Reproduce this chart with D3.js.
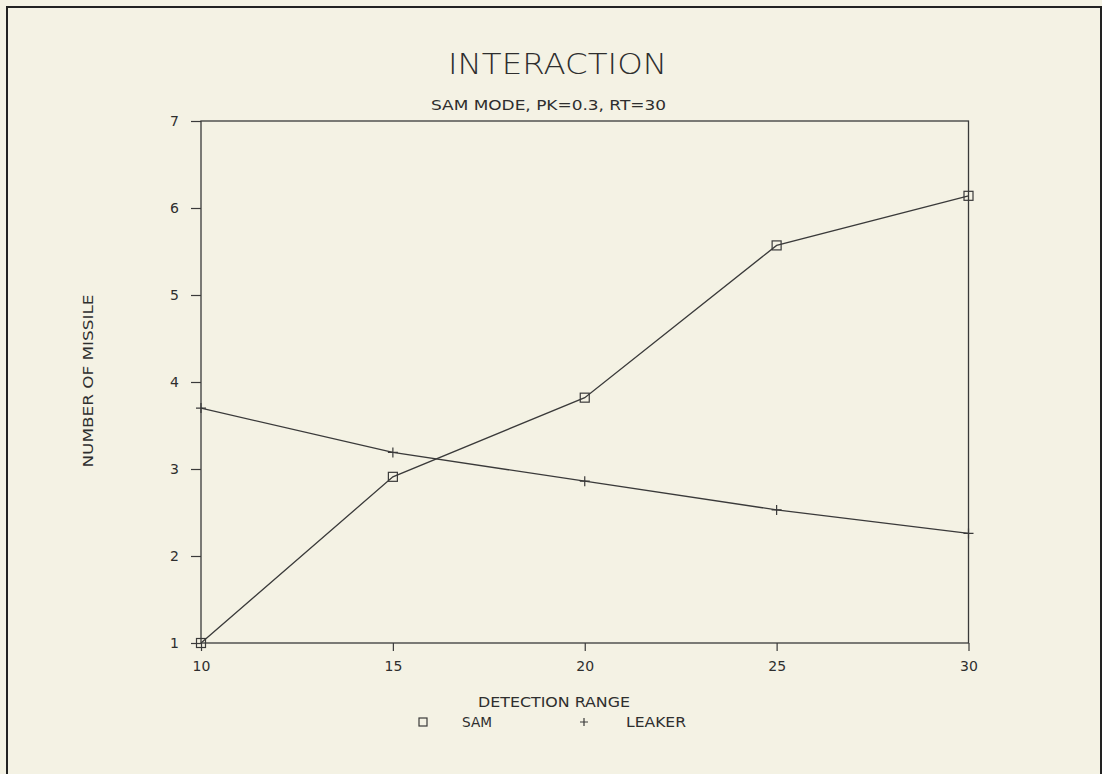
<!DOCTYPE html>
<html>
<head>
<meta charset="utf-8">
<script src="https://cdn.jsdelivr.net/npm/d3@7"></script>
<style>
  html, body { margin: 0; padding: 0; background: #f4f2e4; }
  svg { display: block; }
  text { font-family: "DejaVu Sans", "Liberation Sans", sans-serif; fill: #2e2e2e; }
</style>
</head>
<body>
<script>
const ranges = [10, 15, 20, 25, 30];
const samValues = [1.0, 2.91, 3.82, 5.57, 6.14];
const leakerValues = [3.70, 3.19, 2.86, 2.53, 2.26];
const xTicks = [10, 15, 20, 25, 30];
const yTicks = [1, 2, 3, 4, 5, 6, 7];
const seriesNames = ["SAM", "LEAKER"];

const W = 1102, H = 774;
const mLeft = 201, mRight = 968.5, mTop = 121, mBottom = 643;
const ink = "#3a3a3a";

const svg = d3.select("body").append("svg").attr("width", W).attr("height", H);

svg.append("rect").attr("x", 0).attr("y", 0).attr("width", W).attr("height", H).attr("fill", "#f4f2e4");
// outer frame
svg.append("path").attr("d", `M7,${H + 5} L7,7 L1101,7 L1101,${H + 5}`)
  .attr("fill", "none").attr("stroke", "#222").attr("stroke-width", 2);

const x = d3.scaleLinear().domain([10, 30]).range([mLeft, mRight]);
const y = d3.scaleLinear().domain([1, 7]).range([mBottom, mTop]);

// plot box
svg.append("rect").attr("x", mLeft).attr("y", mTop).attr("width", mRight - mLeft).attr("height", mBottom - mTop)
  .attr("fill", "none").attr("stroke", ink).attr("stroke-width", 1.3);

const fontTicks = 14;
const xAxis = d3.axisBottom(x).tickValues(xTicks).tickSize(8).tickPadding(10).tickFormat(d3.format("d"));
const gx = svg.append("g").attr("transform", `translate(0,${mBottom})`).call(xAxis);
gx.select(".domain").remove();
gx.selectAll("line").attr("stroke", ink).attr("stroke-width", 1.2);
gx.selectAll("text").attr("font-size", fontTicks).attr("fill", "#3a3a3a").style("font-family", "DejaVu Sans, sans-serif");

const yAxis = d3.axisLeft(y).tickValues(yTicks).tickSize(10).tickPadding(12).tickFormat(d3.format("d"));
const gy = svg.append("g").attr("transform", `translate(${mLeft},0)`).call(yAxis);
gy.select(".domain").remove();
gy.selectAll("line").attr("stroke", ink).attr("stroke-width", 1.2);
gy.selectAll("text").attr("font-size", fontTicks).attr("fill", "#3a3a3a").style("font-family", "DejaVu Sans, sans-serif");

const line = d3.line().x(d => x(d[0])).y(d => y(d[1]));
const samData = ranges.map((r, i) => [r, samValues[i]]);
const leakData = ranges.map((r, i) => [r, leakerValues[i]]);

svg.append("path").datum(samData).attr("d", line).attr("fill", "none").attr("stroke", ink).attr("stroke-width", 1.3);
svg.append("path").datum(leakData).attr("d", line).attr("fill", "none").attr("stroke", ink).attr("stroke-width", 1.3);

const sq = 9;
svg.selectAll("rect.sam").data(samData).enter().append("rect")
  .attr("x", d => x(d[0]) - sq / 2).attr("y", d => y(d[1]) - sq / 2)
  .attr("width", sq).attr("height", sq).attr("fill", "none").attr("stroke", ink).attr("stroke-width", 1.2);

const pl = 5;
svg.selectAll("path.leak").data(leakData).enter().append("path")
  .attr("d", d => `M${x(d[0]) - pl},${y(d[1])} h${2 * pl} M${x(d[0])},${y(d[1]) - pl} v${2 * pl}`)
  .attr("stroke", ink).attr("stroke-width", 1.2).attr("fill", "none");

// titles
svg.append("text").attr("x", 557.5).attr("y", 74).attr("text-anchor", "middle")
  .attr("font-size", 28).attr("font-weight", 200).attr("textLength", 219).attr("lengthAdjust", "spacingAndGlyphs")
  .text("INTERACTION");
svg.append("text").attr("x", 548.5).attr("y", 110).attr("text-anchor", "middle")
  .attr("font-size", 14).attr("textLength", 235).attr("lengthAdjust", "spacingAndGlyphs")
  .text("SAM MODE, PK=0.3, RT=30");
svg.append("text").attr("x", 554).attr("y", 707).attr("text-anchor", "middle")
  .attr("font-size", 14).attr("textLength", 152).attr("lengthAdjust", "spacingAndGlyphs")
  .text("DETECTION RANGE");
svg.append("text").attr("transform", "translate(93,381) rotate(-90)").attr("text-anchor", "middle")
  .attr("font-size", 14).attr("textLength", 173).attr("lengthAdjust", "spacingAndGlyphs")
  .text("NUMBER OF MISSILE");

// legend
svg.append("rect").attr("x", 419).attr("y", 718).attr("width", 8).attr("height", 8)
  .attr("fill", "none").attr("stroke", ink).attr("stroke-width", 1.2);
svg.append("text").attr("x", 462).attr("y", 727).attr("font-size", 14)
  .attr("textLength", 30).attr("lengthAdjust", "spacingAndGlyphs").text(seriesNames[0]);
svg.append("path").attr("d", "M580,722 h8 M584,718 v8").attr("stroke", ink).attr("stroke-width", 1.2);
svg.append("text").attr("x", 626).attr("y", 727).attr("font-size", 14)
  .attr("textLength", 60).attr("lengthAdjust", "spacingAndGlyphs").text(seriesNames[1]);
</script>
</body>
</html>
